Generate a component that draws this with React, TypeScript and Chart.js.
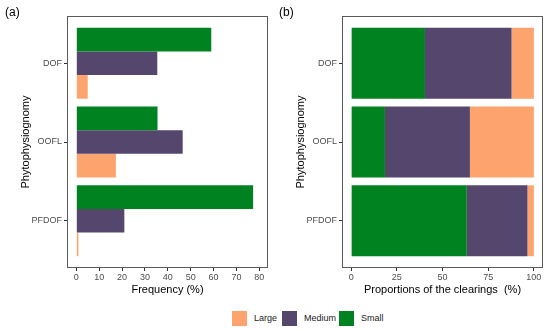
import React, { useEffect, useRef } from "react";
import { Chart, registerables } from "chart.js";

Chart.register(...registerables);

const categories = ["DOF", "OOFL", "PFDOF"];
const seriesNames = ["Small", "Medium", "Large"];
const freqSmall = [59, 35.5, 77.3];
const freqMedium = [35.4, 46.5, 21];
const freqLarge = [5, 17.3, 0.9];
const propSmall = [40.4, 18.5, 63.3];
const propMedium = [47.4, 46.5, 33.2];
const propLarge = [12.2, 35, 3.5];
const freqTicks = [0, 10, 20, 30, 40, 50, 60, 70, 80];
const propTicks = [0, 25, 50, 75, 100];
const colors: Record<string, string> = { Small: "#008221", Medium: "#55466E", Large: "#FDA36E" };
const legendOrder = ["Large", "Medium", "Small"];

const FONT = "'Liberation Sans', Arial, sans-serif";

const borderPlugin = {
  id: "panelBorder",
  afterDatasetsDraw(chart: any) {
    const { ctx, chartArea } = chart;
    ctx.save();
    ctx.strokeStyle = "#5a5a5a";
    ctx.lineWidth = 1;
    ctx.strokeRect(
      Math.round(chartArea.left) + 0.5,
      Math.round(chartArea.top) + 0.5,
      Math.round(chartArea.right - chartArea.left) - 1,
      Math.round(chartArea.bottom - chartArea.top) - 1
    );
    ctx.restore();
  },
};

function makeConfig(
  series: number[][],
  stacked: boolean,
  xmin: number,
  xmax: number,
  xticks: number[],
  xtitle: string
): any {
  return {
    type: "bar",
    data: {
      datasets: seriesNames.map((name, si) => ({
        label: name,
        data: series[si].map((v, i) => ({ x: v, y: i + 1 })),
        backgroundColor: colors[name],
        borderWidth: 0,
        categoryPercentage: 0.9,
        barPercentage: 1,
      })),
    },
    options: {
      indexAxis: "y",
      animation: false,
      responsive: false,
      maintainAspectRatio: false,
      layout: { padding: { left: 0, right: 7, top: 16, bottom: 0 } },
      plugins: { legend: { display: false }, tooltip: { enabled: false } },
      scales: {
        x: {
          type: "linear",
          stacked,
          min: xmin,
          max: xmax,
          offset: false,
          afterBuildTicks: (s: any) => {
            s.ticks = xticks.map((v) => ({ value: v }));
          },
          afterFit: (s: any) => {
            s.height = 32;
          },
          border: { display: false },
          grid: { offset: false, drawOnChartArea: false, drawTicks: true, tickLength: 3, color: "#333" },
          ticks: {
            padding: 1,
            color: "#4d4d4d",
            font: { family: FONT, size: 9 },
            maxRotation: 0,
          },
          title: {
            display: true,
            text: xtitle,
            color: "#000",
            font: { family: FONT, size: 11 },
            padding: { top: 0, bottom: 3 },
          },
        },
        y: {
          type: "linear",
          stacked,
          reverse: true,
          min: 0.4,
          max: 3.6,
          offset: false,
          afterBuildTicks: (s: any) => {
            s.ticks = categories.map((_, i) => ({ value: i + 1 }));
          },
          afterFit: (s: any) => {
            s.width = 67;
          },
          border: { display: false },
          grid: { offset: false, drawOnChartArea: false, drawTicks: true, tickLength: 3, color: "#333" },
          ticks: {
            padding: 2,
            color: "#4d4d4d",
            font: { family: FONT, size: 9 },
            callback: (v: any) => categories[Math.round(v) - 1] ?? "",
          },
          title: {
            display: true,
            text: "Phytophysiognomy",
            color: "#000",
            font: { family: FONT, size: 11 },
            padding: { top: 19, bottom: 0 },
          },
        },
      },
    },
    plugins: [borderPlugin],
  };
}

function Panel(props: { config: any; left: number }) {
  const ref = useRef<HTMLCanvasElement>(null);
  useEffect(() => {
    const chart = new Chart(ref.current as HTMLCanvasElement, props.config);
    return () => chart.destroy();
  }, []);
  return (
    <canvas
      ref={ref}
      width={275}
      height={300}
      style={{ position: "absolute", left: props.left, top: 0, width: 275, height: 300 }}
    />
  );
}

export default function App() {
  const leftCfg = makeConfig([freqSmall, freqMedium, freqLarge], false, -4.07, 83.8, freqTicks, "Frequency (%)");
  const rightCfg = makeConfig(
    [propSmall, propMedium, propLarge],
    true,
    -5,
    105,
    propTicks,
    "Proportions of the clearings  (%)"
  );
  const legendPos = [232, 282, 339];
  return (
    <div
      style={{
        position: "absolute",
        left: 0,
        top: 0,
        width: 550,
        height: 331,
        background: "#fff",
        fontFamily: FONT,
        overflow: "hidden",
      }}
    >
      <Panel config={leftCfg} left={0} />
      <Panel config={rightCfg} left={275} />
      <div style={{ position: "absolute", left: 5, top: 5, fontSize: 12, color: "#000" }}>(a)</div>
      <div style={{ position: "absolute", left: 279, top: 5, fontSize: 12, color: "#000" }}>(b)</div>
      {legendOrder.map((name, i) => (
        <React.Fragment key={name}>
          <div style={{ position: "absolute", left: legendPos[i], top: 311, width: 15, height: 15, background: colors[name] }} />
          <div style={{ position: "absolute", left: legendPos[i] + 22, top: 311, height: 15, lineHeight: "15px", fontSize: 9, color: "#1a1a1a", whiteSpace: "nowrap" }}>{name}</div>
        </React.Fragment>
      ))}
    </div>
  );
}
